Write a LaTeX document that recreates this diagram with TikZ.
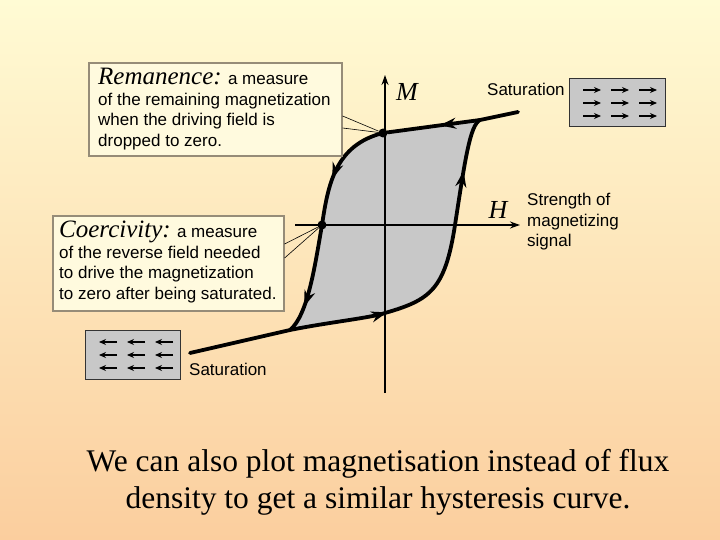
\documentclass[tikz,border=0pt]{standalone}
\usepackage{fontspec}
\setmainfont{Liberation Serif}
\setsansfont{Liberation Sans}
\usetikzlibrary{arrows.meta,decorations.markings}
\definecolor{bgtop}{RGB}{255,251,212}
\definecolor{bgbot}{RGB}{251,206,158}
\definecolor{boxfill}{RGB}{255,250,222}
\definecolor{boxline}{RGB}{150,140,120}
\definecolor{loopfill}{RGB}{200,200,200}
\tikzset{
 lbl/.style={font=\sffamily\fontsize{17}{20.5}\selectfont,align=left,inner sep=0pt},
 infobox/.style={draw=boxline,line width=1.6pt,fill=boxfill},
 magbox/.style={draw=black!80,line width=1.2pt,fill=loopfill},
 curve/.style={line width=3.8pt,line cap=round},
 dot/.style={circle,fill=black,inner sep=0pt,minimum size=9pt},
 ptr/.style={line width=0.6pt},
 axis/.style={line width=1.4pt,-{Stealth[length=10pt,width=7pt]}},
 arr/.style={postaction={decorate},decoration={markings,mark=at position #1 with {\arrow{Stealth[length=16pt,width=11pt]}}}}
}
\begin{document}
\begin{tikzpicture}[x=1pt,y=-1pt]
\shade[top color=bgtop,bottom color=bgbot] (0,0) rectangle (720,540);
\useasboundingbox (0,0) rectangle (720,540);
% loop fill
\fill[loopfill] (383,133) .. controls (335,145) and (328,185) .. (322,225)
 .. controls (315,265) and (308,315) .. (290,330)
 .. controls (330,322) and (370,318) .. (385,313)
 .. controls (430,300) and (445,290) .. (455,225)
 .. controls (465,160) and (470,125) .. (480,120) -- cycle;
% axes
\coordinate (vb) at (385,393); \coordinate (vt) at (385,75);
\coordinate (hl) at (295,225); \coordinate (hr) at (520,225);
\draw[axis] (vb) -- (vt);
\draw[axis] (hl) -- (hr);
\node[font=\itshape\fontsize{26}{26}\selectfont] (M) at (407,92) {M};
\node[font=\itshape\fontsize{26}{26}\selectfont] (H) at (498,210) {H};
% curves
\coordinate (ts) at (518,112); \coordinate (tc) at (480,120);
\coordinate (bc) at (290,330); \coordinate (bs) at (190,353);
\node[dot] (rem) at (383,133) {};
\node[dot] (coe) at (322,225) {};
\draw[curve,arr=0.6] (ts) -- (tc) -- (rem);
\draw[curve,arr=0.6] (rem.center) .. controls (335,145) and (328,185) .. (coe.center);
\draw[curve,arr=0.75] (coe.center) .. controls (315,265) and (308,315) .. (bc);
\draw[curve] (bc) -- (bs);
\draw[curve,arr=0.45] (bc) .. controls (330,322) and (370,318) .. (385,313)
 .. controls (430,300) and (445,290) .. (455,225);
\draw[curve,arr=0.5] (455,225) .. controls (465,160) and (470,125) .. (tc);
% remanence box
\node[infobox,minimum width=253pt,minimum height=93pt,anchor=north west] (rbox) at (88,62) {};
\node[lbl,anchor=north west] (rtxt) at (98,68) {{\rmfamily\itshape\fontsize{25}{25}\selectfont Remanence:} a measure\\of the remaining magnetization\\when the driving field is\\dropped to zero.};
\draw[ptr] (rbox.east |- 0,116) -- (rem);
\draw[ptr] (rbox.east |- 0,128) -- (rem);
% coercivity box
\node[infobox,minimum width=231pt,minimum height=95pt,anchor=north west] (cbox) at (52,215) {};
\node[lbl,anchor=north west] (ctxt) at (59,221) {{\rmfamily\itshape\fontsize{25}{25}\selectfont Coercivity:} a measure\\of the reverse field needed\\to drive the magnetization\\to zero after being saturated.};
\draw[ptr] (cbox.east |- 0,244) -- (coe);
\draw[ptr] (cbox.east |- 0,258) -- (coe);
% saturation boxes
\node[magbox,minimum width=96pt,minimum height=48pt,anchor=north west] (sbox1) at (569,78) {};
\foreach \i in {0,1,2}{\foreach \j in {0,1,2}{
 \draw[line width=1.3pt,-{Stealth[length=7pt,width=6pt]}] (583+\i*28,90+\j*13) -- (601+\i*28,90+\j*13);}}
\node[magbox,minimum width=95pt,minimum height=49pt,anchor=north west] (sbox2) at (85,330) {};
\foreach \i in {0,1,2}{\foreach \j in {0,1,2}{
 \draw[line width=1.3pt,-{Stealth[length=7pt,width=6pt]}] (117+\i*28,342+\j*13) -- (99+\i*28,342+\j*13);}}
\node[lbl,anchor=west] (s1) at (487,89) {Saturation};
\node[lbl,anchor=west] (s2) at (189,369) {Saturation};
\node[lbl,anchor=north west] (str) at (527,193) {Strength of\\magnetizing\\signal};
% caption
\node[font=\fontsize{31.5}{37}\selectfont,align=center] (cap) at (378,482) {We can also plot magnetisation instead of flux\\density to get a similar hysteresis curve.};
\end{tikzpicture}
\end{document}
